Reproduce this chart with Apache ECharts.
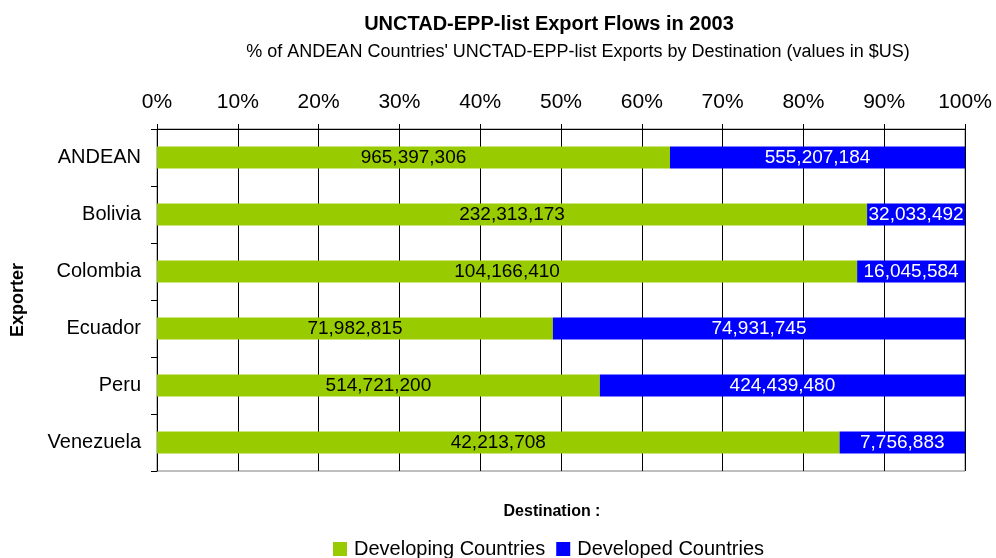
<!DOCTYPE html>
<html>
<head>
<meta charset="utf-8">
<script src="https://cdn.jsdelivr.net/npm/echarts@6/dist/echarts.min.js"></script>
<style>
  html, body { margin: 0; padding: 0; background: #fff; }
  #main { width: 996px; height: 558px; }
</style>
</head>
<body>
<div id="main"></div>
<script>
// exporters, top to bottom
const exporters = ['ANDEAN', 'Bolivia', 'Colombia', 'Ecuador', 'Peru', 'Venezuela'];
// export values in $US
const developing = [965397306, 232313173, 104166410, 71982815, 514721200, 42213708];
const developed = [555207184, 32033492, 16045584, 74931745, 424439480, 7756883];
const seriesNames = ['Developing Countries', 'Developed Countries'];

// share of each row, in percent
function pct(a, b) {
  return a.map((v, i) => v / (a[i] + b[i]) * 100);
}
const devPct = pct(developing, developed);
const dedPct = pct(developed, developing);

const fontFam = '"Liberation Sans", Arial, sans-serif';
const myChart = echarts.init(document.getElementById('main'));

const option = {
  backgroundColor: '#fff',
  animation: false,
  textStyle: { fontFamily: fontFam },
  title: [
    {
      text: 'UNCTAD-EPP-list Export Flows in 2003',
      left: 544, top: 9, textAlign: 'center',
      textStyle: { fontSize: 20, fontWeight: 'bold', color: '#000', fontFamily: fontFam }
    },
    {
      text: "% of ANDEAN Countries' UNCTAD-EPP-list Exports by Destination (values in $US)",
      left: 573, top: 38, textAlign: 'center',
      textStyle: { fontSize: 18, fontWeight: 'normal', color: '#000', fontFamily: fontFam }
    },
    {
      text: 'Destination :',
      left: 547, top: 499, textAlign: 'center',
      textStyle: { fontSize: 16, fontWeight: 'bold', color: '#000', fontFamily: fontFam }
    }
  ],
  legend: {
    data: seriesNames,
    left: 328,
    top: 534,
    itemWidth: 14,
    itemHeight: 14,
    itemGap: 11,
    icon: 'rect',
    textStyle: { fontSize: 20, color: '#000', fontFamily: fontFam, padding: [0, 0, 0, 2] }
  },
  grid: {
    left: 157, right: 31, top: 129, bottom: 87,
    outerBoundsMode: 'none',
    containLabel: false,
    show: true, borderColor: '#808080', borderWidth: 1
  },
  xAxis: {
    type: 'value',
    position: 'top',
    min: 0, max: 100, interval: 10,
    axisLine: { show: true, lineStyle: { color: '#000' } },
    axisTick: { show: true, length: 5, lineStyle: { color: '#000' } },
    splitLine: { show: true, lineStyle: { color: '#000', width: 1 } },
    axisLabel: { formatter: '{value}%', fontSize: 21, color: '#000', margin: 16 }
  },
  yAxis: {
    type: 'category',
    data: exporters,
    inverse: true,
    name: 'Exporter',
    nameLocation: 'middle',
    nameGap: 130,
    nameTextStyle: { fontSize: 18, fontWeight: 'bold', color: '#000' },
    axisLine: { show: true, lineStyle: { color: '#000' } },
    axisTick: { show: true, length: 6, lineStyle: { color: '#000' } },
    axisLabel: { fontSize: 20, color: '#000', margin: 16 }
  },
  series: [
    {
      name: seriesNames[0],
      type: 'bar',
      stack: 'total',
      barWidth: 22,
      itemStyle: { color: '#99cc00' },
      label: {
        show: true, position: 'inside', fontSize: 19, color: '#000',
        formatter: p => developing[p.dataIndex].toLocaleString('en-US')
      },
      data: devPct
    },
    {
      name: seriesNames[1],
      type: 'bar',
      stack: 'total',
      barWidth: 22,
      itemStyle: { color: '#0000ff' },
      label: {
        show: true, position: 'inside', fontSize: 19, color: '#fff',
        formatter: p => developed[p.dataIndex].toLocaleString('en-US')
      },
      data: dedPct
    }
  ]
};

myChart.setOption(option);
</script>
</body>
</html>
